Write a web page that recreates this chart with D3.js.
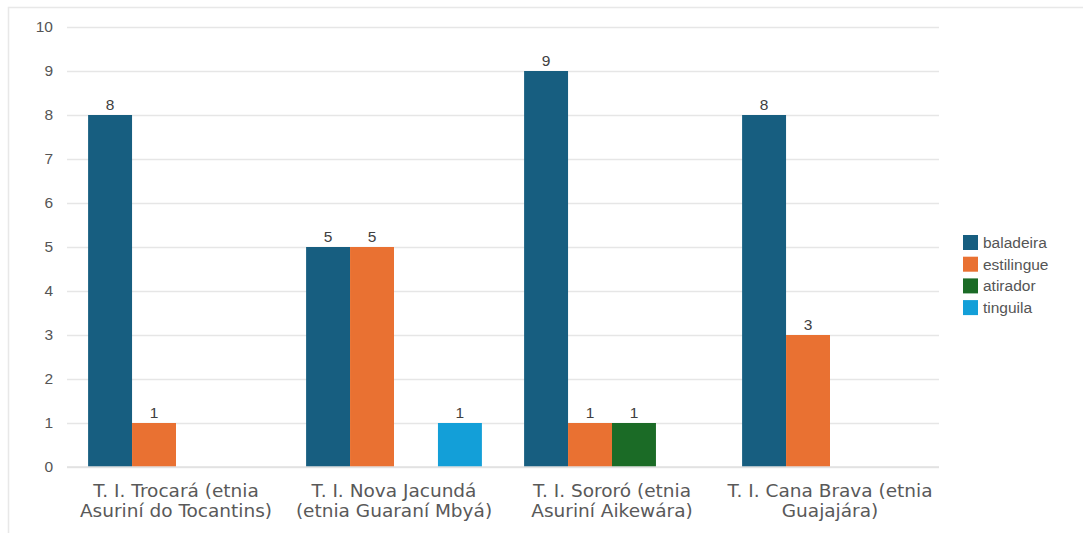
<!DOCTYPE html>
<html>
<head>
<meta charset="utf-8">
<script src="https://cdn.jsdelivr.net/npm/d3@7"></script>
<style>
  body { margin: 0; background: #fff; }
  text { font-family: "Liberation Sans", Arial, sans-serif; }
</style>
</head>
<body>
<div id="vis"></div>
<script>
// data
const categories = [
  ["T. I. Trocará (etnia", "Asuriní do Tocantins)"],
  ["T. I. Nova Jacundá", "(etnia Guaraní Mbyá)"],
  ["T. I. Sororó (etnia", "Asuriní Aikewára)"],
  ["T. I. Cana Brava (etnia", "Guajajára)"]
];
const seriesNames = ["baladeira", "estilingue", "atirador", "tinguila"];
const baladeira = [8, 5, 9, 8];
const estilingue = [1, 5, 1, 3];
const atirador = [0, 0, 1, 0];
const tinguila = [0, 1, 0, 0];
const yTicks = [0, 1, 2, 3, 4, 5, 6, 7, 8, 9, 10];

const COLORS = ["#175e80", "#e97132", "#1b6b26", "#139fd8"];

// frame
const FRAME_WIDTH = 1083;
const FRAME_HEIGHT = 533;
const MARGINS = {left: 67, right: 144, top: 27, bottom: 66};
const VIS_WIDTH = FRAME_WIDTH - MARGINS.left - MARGINS.right;
const VIS_HEIGHT = FRAME_HEIGHT - MARGINS.top - MARGINS.bottom;

const svg = d3.select("#vis")
  .append("svg")
  .attr("width", FRAME_WIDTH)
  .attr("height", FRAME_HEIGHT);

// outer border (top and left)
svg.append("path")
  .attr("d", "M8.5," + FRAME_HEIGHT + "V7.5H" + FRAME_WIDTH)
  .attr("fill", "none")
  .attr("stroke", "#e8e8e8")
  .attr("stroke-width", 1.5);

const g = svg.append("g")
  .attr("transform", "translate(" + MARGINS.left + "," + MARGINS.top + ")");

const values = [baladeira, estilingue, atirador, tinguila];
const rows = [];
categories.forEach((c, i) => {
  seriesNames.forEach((s, j) => {
    rows.push({cat: i, series: j, value: values[j][i]});
  });
});

const X_SCALE = d3.scaleBand()
  .domain(d3.range(categories.length))
  .range([0, VIS_WIDTH])
  .paddingInner(0)
  .paddingOuter(0);

const X_INNER = d3.scaleBand()
  .domain(d3.range(seriesNames.length))
  .range([0, X_SCALE.bandwidth()])
  .paddingOuter(0.48)
  .paddingInner(0);

const Y_SCALE = d3.scaleLinear()
  .domain([0, 10])
  .range([VIS_HEIGHT, 0]);

// gridlines
g.append("g")
  .call(d3.axisLeft(Y_SCALE).tickValues(yTicks).tickSize(-VIS_WIDTH).tickFormat(""))
  .call(ax => ax.select(".domain").remove())
  .call(ax => ax.selectAll("line").attr("stroke", "#e6e6e6").attr("stroke-width", 1.5));

// y tick labels
g.append("g")
  .call(d3.axisLeft(Y_SCALE).tickValues(yTicks).tickSize(0).tickPadding(14))
  .call(ax => ax.select(".domain").remove())
  .call(ax => ax.selectAll("text")
    .attr("fill", "#555")
    .attr("font-size", "15.5px")
    .style("font-family", "Liberation Sans, Arial, sans-serif"));

// bars
const bars = rows.filter(d => d.value > 0);
g.selectAll(".bar")
  .data(bars)
  .enter()
  .append("rect")
    .attr("class", "bar")
    .attr("x", d => X_SCALE(d.cat) + X_INNER(d.series))
    .attr("y", d => Y_SCALE(d.value))
    .attr("width", X_INNER.bandwidth())
    .attr("height", d => VIS_HEIGHT - Y_SCALE(d.value))
    .attr("fill", d => COLORS[d.series]);

// value labels
g.selectAll(".val")
  .data(bars)
  .enter()
  .append("text")
    .attr("x", d => X_SCALE(d.cat) + X_INNER(d.series) + X_INNER.bandwidth() / 2)
    .attr("y", d => Y_SCALE(d.value) - 5)
    .attr("text-anchor", "middle")
    .attr("font-size", "15.5px")
    .attr("fill", "#404040")
    .text(d => d.value);

// x axis baseline
g.append("line")
  .attr("x1", 0).attr("x2", VIS_WIDTH)
  .attr("y1", VIS_HEIGHT).attr("y2", VIS_HEIGHT)
  .attr("stroke", "#e0e0e0")
  .attr("stroke-width", 1.5);

// category labels
const catLabels = g.selectAll(".cat")
  .data(categories)
  .enter()
  .append("text")
    .attr("text-anchor", "middle")
    .attr("font-size", "18.5px")
    .style("font-family", "DejaVu Sans, Verdana, sans-serif")
    .attr("fill", "#595959")
    .attr("transform", (d, i) => "translate(" + (X_SCALE(i) + X_SCALE.bandwidth() / 2) + "," + (VIS_HEIGHT + 30) + ")");

catLabels.selectAll("tspan")
  .data(d => d)
  .enter()
  .append("tspan")
    .attr("x", 0)
    .attr("dy", (d, i) => i === 0 ? 0 : 19.5)
    .text(d => d);

// legend
const legend = svg.append("g")
  .attr("transform", "translate(963,235)");

seriesNames.forEach((s, i) => {
  const item = legend.append("g").attr("transform", "translate(0," + (i * 21.7) + ")");
  item.append("rect")
    .attr("width", 15).attr("height", 15)
    .attr("fill", COLORS[i]);
  item.append("text")
    .attr("x", 20).attr("y", 13)
    .attr("font-size", "15.5px")
    .attr("fill", "#555")
    .text(s);
});
</script>
</body>
</html>
